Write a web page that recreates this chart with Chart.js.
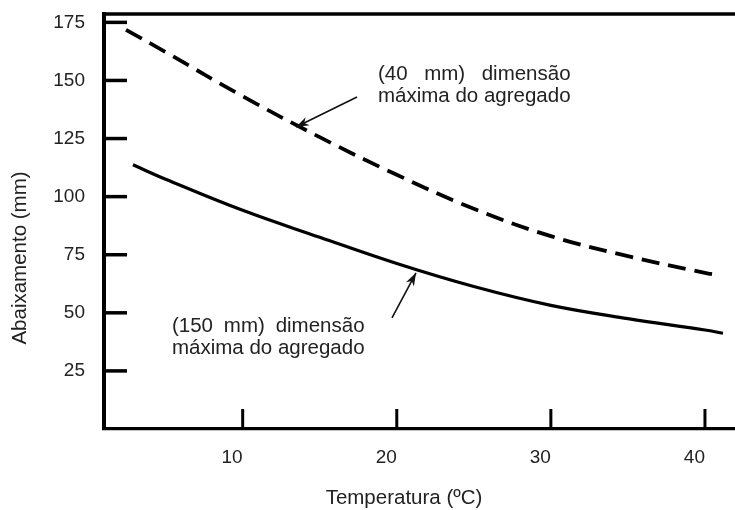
<!DOCTYPE html>
<html><head><meta charset="utf-8">
<script src="https://cdn.jsdelivr.net/npm/chart.js@4.4.0/dist/chart.umd.min.js"></script>
<style>html,body{margin:0;padding:0;background:#fff}canvas{display:block}</style>
</head><body>
<canvas id="c" width="735" height="510"></canvas>
<script>
// ---- data ----
const temp40   = [2.43, 5, 10, 15, 20, 25, 30, 35, 40, 40.78];
const slump40  = [171.8, 162.2, 143.2, 125.6, 109.4, 94.8, 83.0, 74.4, 67.2, 66.3];
const temp150  = [2.88, 5, 10, 15, 20, 25, 30, 35, 40, 41.17];
const slump150 = [113.7, 107.5, 94.1, 82.5, 71.2, 61.3, 53.2, 47.5, 42.6, 41.2];
const xTicks = [10, 20, 30, 40];
const yTicks = [25, 50, 75, 100, 125, 150, 175];
const xTitle = 'Temperatura (ºC)';
const yTitle = 'Abaixamento (mm)';
const label40  = ['(40 mm) dimensão', 'máxima do agregado'];
const label150 = ['(150 mm) dimensão', 'máxima do agregado'];

// annotation anchors in data coordinates
const notes = [
  { lines: label40,  at: [18.78, 150.2], from: [17.42, 142.9], to: [13.46, 130.0] },
  { lines: label150, at: [5.41, 41.8],   from: [19.69, 47.8],  to: [21.25, 67.2] }
];

const TEXT = '#222';
const FONT = 'Liberation Sans, Arial, sans-serif';

function pts(xs, ys) { return xs.map((v, i) => ({ x: v, y: ys[i] })); }

function drawJustified(ctx, lines, x0, y0, lh) {
  const w = Math.max(...lines.map(l => ctx.measureText(l).width));
  lines.forEach((line, i) => {
    const yy = y0 + i * lh;
    const words = line.split(' ');
    const lw = ctx.measureText(line).width;
    if (words.length < 2 || lw >= w - 0.5) { ctx.fillText(line, x0, yy); return; }
    const wordsW = words.reduce((s, wd) => s + ctx.measureText(wd).width, 0);
    const gap = (w - wordsW) / (words.length - 1);
    let cx = x0;
    words.forEach(wd => { ctx.fillText(wd, cx, yy); cx += ctx.measureText(wd).width + gap; });
  });
}

function arrow(ctx, x1, y1, x2, y2) {
  ctx.lineWidth = 1.6;
  ctx.beginPath(); ctx.moveTo(x1, y1); ctx.lineTo(x2, y2); ctx.stroke();
  const ang = Math.atan2(y2 - y1, x2 - x1);
  const L = 13, H = 4.5;
  ctx.beginPath();
  ctx.moveTo(x2, y2);
  ctx.lineTo(x2 - L * Math.cos(ang) + H * Math.sin(ang), y2 - L * Math.sin(ang) - H * Math.cos(ang));
  ctx.lineTo(x2 - L * 0.7 * Math.cos(ang), y2 - L * 0.7 * Math.sin(ang));
  ctx.lineTo(x2 - L * Math.cos(ang) - H * Math.sin(ang), y2 - L * Math.sin(ang) + H * Math.cos(ang));
  ctx.closePath(); ctx.fill();
}

const decor = {
  id: 'decor',
  afterDraw(chart) {
    const { ctx, chartArea: a, scales: { x, y } } = chart;
    ctx.save();
    ctx.strokeStyle = '#000'; ctx.fillStyle = '#000';
    // top frame line
    ctx.lineWidth = 3.5;
    ctx.beginPath(); ctx.moveTo(a.left - 2, a.top); ctx.lineTo(a.right, a.top); ctx.stroke();
    // inward tick marks
    ctx.lineWidth = 3.5;
    y.ticks.forEach(t => {
      const p = y.getPixelForValue(t.value);
      ctx.beginPath(); ctx.moveTo(a.left, p); ctx.lineTo(a.left + 23, p); ctx.stroke();
    });
    ctx.lineWidth = 3;
    x.ticks.forEach(t => {
      const p = x.getPixelForValue(t.value);
      ctx.beginPath(); ctx.moveTo(p, a.bottom); ctx.lineTo(p, a.bottom - 20); ctx.stroke();
    });
    // annotations
    notes.forEach(n => {
      ctx.strokeStyle = '#111'; ctx.fillStyle = '#111';
      arrow(ctx, x.getPixelForValue(n.from[0]), y.getPixelForValue(n.from[1]),
                 x.getPixelForValue(n.to[0]),   y.getPixelForValue(n.to[1]));
      ctx.fillStyle = TEXT;
      ctx.font = '20.5px ' + FONT;
      ctx.textAlign = 'left'; ctx.textBaseline = 'alphabetic';
      drawJustified(ctx, n.lines, x.getPixelForValue(n.at[0]), y.getPixelForValue(n.at[1]), 22);
    });
    // axis titles
    ctx.fillStyle = TEXT;
    ctx.font = '20.5px ' + FONT;
    ctx.textAlign = 'center'; ctx.textBaseline = 'middle';
    ctx.fillText(xTitle, 404, 498);
    ctx.translate(20, 258); ctx.rotate(-Math.PI / 2);
    ctx.fillText(yTitle, 0, 0);
    ctx.restore();
  }
};

new Chart(document.getElementById('c'), {
  type: 'line',
  data: {
    datasets: [
      { label: '(40 mm) dimensão máxima do agregado', data: pts(temp40, slump40),
        borderColor: '#000', borderWidth: 3.8, borderDash: [18, 9],
        pointRadius: 0, fill: false, tension: 0.4 },
      { label: '(150 mm) dimensão máxima do agregado', data: pts(temp150, slump150),
        borderColor: '#000', borderWidth: 3.2,
        pointRadius: 0, fill: false, tension: 0.4 }
    ]
  },
  options: {
    responsive: false, animation: false,
    layout: { padding: { top: 14, left: 0, right: 0, bottom: 0 } },
    plugins: { legend: { display: false }, tooltip: { enabled: false } },
    scales: {
      x: {
        type: 'linear', min: 1, max: 41.95,
        afterBuildTicks: s => { s.ticks = xTicks.map(v => ({ value: v })); },
        afterFit: s => { s.height = 81; s.paddingLeft = 0; s.paddingRight = 0; },
        grid: { display: false, drawTicks: false },
        border: { display: true, color: '#000', width: 3.3 },
        ticks: { color: TEXT, font: { family: FONT, size: 19 }, padding: 17, align: 'end',
                 autoSkip: false, maxRotation: 0, includeBounds: false }
      },
      y: {
        type: 'linear', min: 0, max: 178.6,
        afterBuildTicks: s => { s.ticks = yTicks.map(v => ({ value: v })); },
        afterFit: s => { s.width = 104; s.paddingTop = 0; s.paddingBottom = 0; },
        grid: { display: false, drawTicks: false },
        border: { display: true, color: '#000', width: 4 },
        ticks: { color: TEXT, font: { family: FONT, size: 19 }, padding: 19, includeBounds: false }
      }
    }
  },
  plugins: [decor]
});
</script>
</body></html>
